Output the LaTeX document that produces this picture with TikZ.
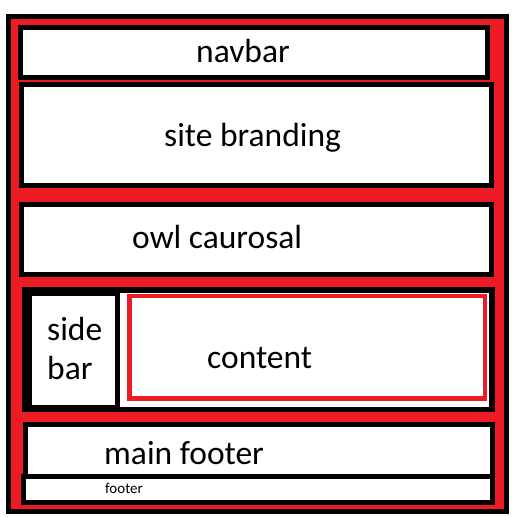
\documentclass[tikz,border=0pt]{standalone}
\usepackage{fontspec}
\setmainfont{Carlito}
\definecolor{paintred}{HTML}{ED1C24}
\tikzset{
  blk/.style={fill=black},
  wht/.style={fill=white},
  redf/.style={fill=paintred},
  lbl/.style={anchor=base west, inner sep=0pt, font=\fontsize{33.5}{40}\selectfont},
  smalllbl/.style={anchor=base west, inner sep=0pt, font=\fontsize{15}{18}\selectfont}
}
\begin{document}
\begin{tikzpicture}[x=1pt,y=-1pt]
\useasboundingbox[fill=white] (0,0) rectangle (514,517);
% outer frame
\fill[blk] (6,14) rectangle (509,514);
\fill[redf] (11,19) rectangle (504,509);
% navbar
\fill[blk] (18,25) rectangle (490,80);
\fill[wht] (23,30) rectangle (485,75);
% site branding
\fill[blk] (19,82) rectangle (494,188);
\fill[wht] (24,87) rectangle (489,183);
% owl caurosal
\fill[blk] (19,202) rectangle (494,277);
\fill[wht] (24,207) rectangle (489,272);
% container with side bar and content
\fill[blk] (22,287) rectangle (495,412);
\fill[wht] (32,296) rectangle (115,405);
\fill[wht] (120,293) rectangle (489,407);
\fill[redf] (127,294) rectangle (487,401);
\fill[wht] (132,298) rectangle (483,396);
% main footer
\fill[blk] (23,422) rectangle (495,479);
\fill[wht] (28,427) rectangle (490,474);
% footer
\fill[blk] (21,474) rectangle (495,505);
\fill[wht] (26,479) rectangle (490,500);
% labels
\node[lbl] (navbar) at (196,62) {navbar};
\node[lbl] (branding) at (164,146) {site branding};
\node[lbl] (owl) at (132,248) {owl caurosal};
\node[lbl] (side) at (47,340) {side};
\node[lbl] (bar) at (47,379) {bar};
\node[lbl] (content) at (207,368) {content};
\node[lbl] (mainfooter) at (104,464) {main footer};
\node[smalllbl] (footer) at (105,493) {footer};
\end{tikzpicture}
\end{document}
